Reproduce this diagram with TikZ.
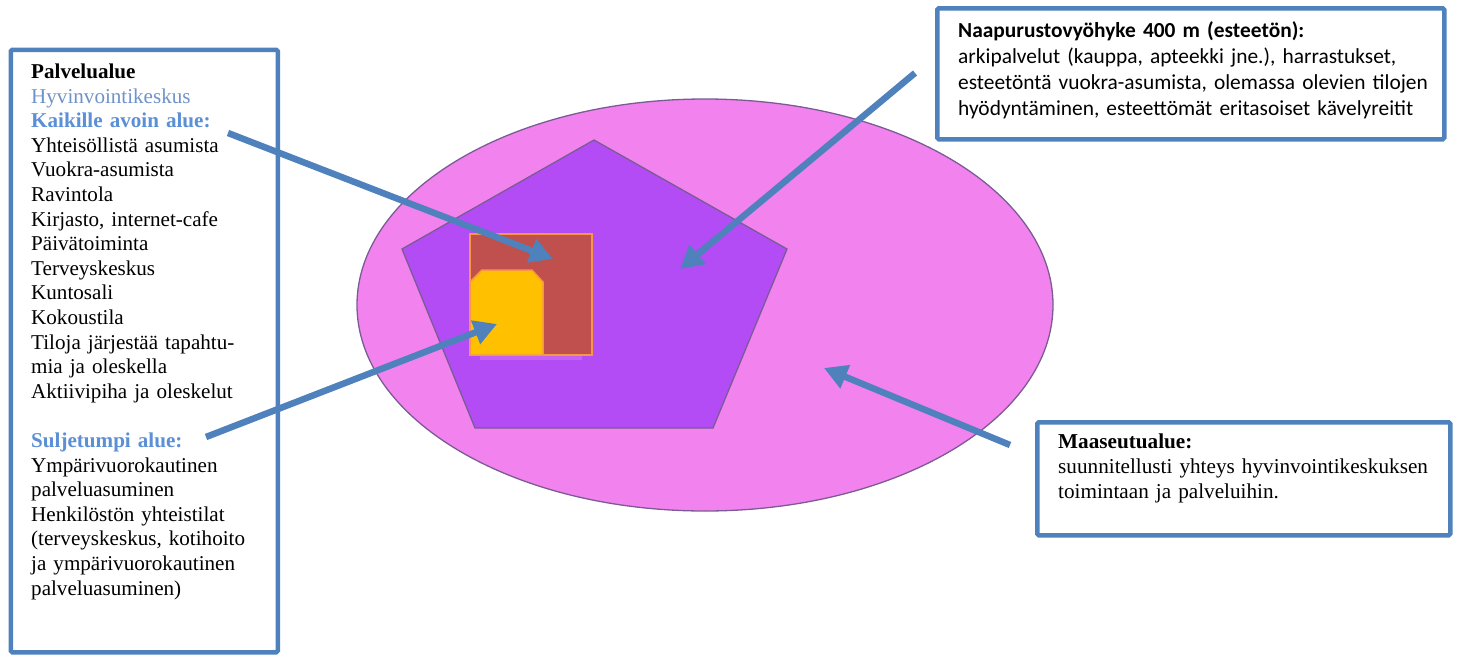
\documentclass[tikz,border=0pt]{standalone}
\usepackage{fontspec}
\setmainfont{Liberation Serif}
\newfontfamily\calibrifont{Carlito}
\usetikzlibrary{arrows.meta}

\definecolor{frameblue}{HTML}{4F81BD}
\definecolor{arrowblue}{HTML}{4F81BD}
\definecolor{titleblue}{HTML}{5B8FD6}
\definecolor{softblue}{HTML}{6F93C9}
\definecolor{ruralpink}{HTML}{F282EE}
\definecolor{zonepurple}{HTML}{B34CF5}
\definecolor{shapeedge}{HTML}{7A5C94}
\definecolor{centerred}{HTML}{C0504D}
\definecolor{closedyellow}{HTML}{FFC000}
\definecolor{edgeorange}{HTML}{F79646}
\definecolor{glowviolet}{HTML}{C463F2}

\tikzset{
  infobox/.style={draw=frameblue, line width=4.5pt, rounded corners=1.5pt,
    fill=white, inner sep=0pt, anchor=north west},
  serifbody/.style={anchor=base west, inner sep=0pt, align=left,
    font=\fontsize{21.1}{24.6}\selectfont},
  sansbody/.style={anchor=base west, inner sep=0pt, align=left,
    font=\calibrifont\fontsize{21.4}{26}\selectfont},
  pointer/.style={draw=arrowblue, line width=6.5pt,
    -{Triangle[length=23pt,width=24pt]}},
  areaedge/.style={draw=shapeedge, line width=1.3pt},
}

\begin{document}
\begin{tikzpicture}[x=1pt,y=-1pt]
\useasboundingbox (0,0) rectangle (1457,654);

% rural area and neighbourhood zone
\path[areaedge, fill=ruralpink] (705,305) ellipse [x radius=348, y radius=206];
\path[areaedge, fill=zonepurple]
  (594,140) -- (787,249) -- (713,428) -- (475,428) -- (402,249) -- cycle;

% welfare centre: open area and closed area
\fill[glowviolet] (480,355) rectangle (582,360);
\draw[edgeorange, line width=1.5pt, fill=centerred] (470,234) rectangle (592,355);
\draw[edgeorange, line width=1.5pt, fill=closedyellow]
  (470,355) -- (470,282) -- (482,270) -- (532,270) -- (543,282) -- (543,355) -- cycle;

% frames
\node[infobox, minimum width=267pt, minimum height=602.5pt] (servicebox) at (8.5,47.5) {};
\node[infobox, minimum width=507pt, minimum height=131pt] (zonebox) at (935,6) {};
\node[infobox, minimum width=413pt, minimum height=113pt] (ruralbox) at (1035,420) {};

% texts
\node[serifbody, text width=240pt] (servicetext) at (31,78.5) {%
\textbf{Palvelualue}\\
{\color{softblue}Hyvinvointikeskus}\\
{\color{titleblue}\textbf{Kaikille avoin alue:}}\\
Yhteisöllistä asumista\\
Vuokra-asumista\\
Ravintola\\
Kirjasto, internet-cafe\\
Päivätoiminta\\
Terveyskeskus\\
Kuntosali\\
Kokoustila\\
Tiloja järjestää tapahtu-\\
mia ja oleskella\\
Aktiivipiha ja oleskelut\\[24.6pt]
{\color{titleblue}\textbf{Suljetumpi alue:}}\\
Ympärivuorokautinen\\
palveluasuminen\\
Henkilöstön yhteistilat\\
(terveyskeskus, kotihoito\\
ja ympärivuorokautinen\\
palveluasuminen)};

\node[sansbody, text width=480pt] (zonetext) at (958,37) {%
\textbf{Naapurustovyöhyke 400 m (esteetön):}\\
arkipalvelut (kauppa, apteekki jne.), harrastukset,\\
esteetöntä vuokra-asumista, olemassa olevien tilojen\\
hyödyntäminen, esteettömät eritasoiset kävelyreitit};

\node[serifbody, text width=385pt, font=\fontsize{21.2}{25}\selectfont] (ruraltext) at (1058,448) {%
\textbf{Maaseutualue:}\\
suunnitellusti yhteys hyvinvointikeskuksen\\
toimintaan ja palveluihin.};

% arrow ends
\coordinate (openfrom) at (228,133);
\coordinate (opento) at (553,259);
\coordinate (closedfrom) at (206,437);
\coordinate (closedto) at (497,324);
\coordinate (zonefrom) at (915,73);
\coordinate (zoneto) at (680,269);
\coordinate (ruralfrom) at (1010,445);
\coordinate (ruralto) at (824,368);

\draw[pointer] (openfrom) -- (opento);
\draw[pointer] (closedfrom) -- (closedto);
\draw[pointer] (zonefrom) -- (zoneto);
\draw[pointer] (ruralfrom) -- (ruralto);
\end{tikzpicture}
\end{document}
